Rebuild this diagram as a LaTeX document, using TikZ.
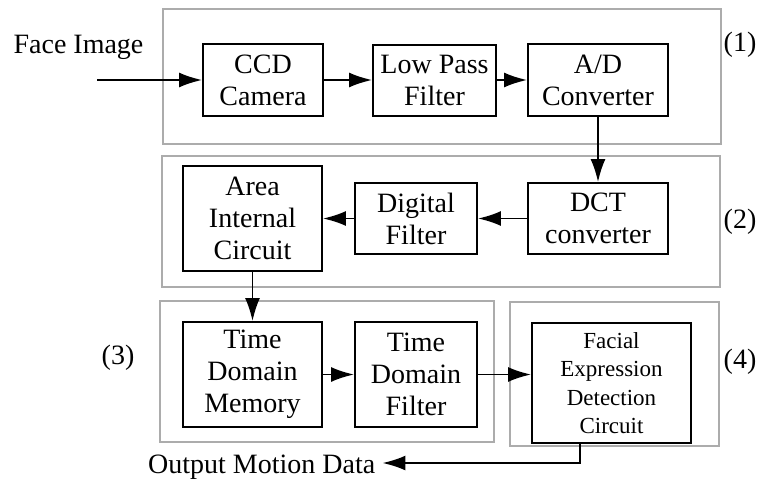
\documentclass[tikz,border=0pt]{standalone}
\usepackage{fontspec}
\newfontfamily\tms{Liberation Serif}
\usetikzlibrary{arrows.meta}
\begin{document}
\begin{tikzpicture}[x=1pt,y=-1pt,
  group/.style={draw=gray!65,line width=1.1pt},
  blk/.style={draw=black,line width=1.9pt,inner sep=0pt,align=center,
     font=\tms\fontsize{28}{32}\selectfont},
  lbl/.style={inner sep=0pt,font=\tms\fontsize{28}{32}\selectfont},
  num/.style={inner sep=0pt,font=\tms\fontsize{28}{30}\selectfont},
  tip/.style={-{Latex[length=23pt,width=15pt]}},
  arr/.style={line width=1.9pt,tip}]
\useasboundingbox (0,0) rectangle (759,481);
% group frames
\draw[group] (163,9) rectangle (721,144);
\draw[group] (162,156) rectangle (720,287);
\draw[group] (160,301) rectangle (494,442);
\draw[group] (510,302) rectangle (719,446);
% blocks
\node[blk,minimum width=120pt,minimum height=72pt] (ccd) at (263,80) {CCD\\Camera};
\node[blk,minimum width=123pt,minimum height=71pt] (lpf) at (434.5,80.5) {Low Pass\\Filter};
\node[blk,minimum width=140pt,minimum height=72pt] (ad) at (598,80) {A/D\\Converter};
\node[blk,minimum width=139pt,minimum height=105pt] (area) at (252.5,218.5) {Area\\Internal\\Circuit};
\node[blk,minimum width=122pt,minimum height=71pt] (df) at (416,218.5) {Digital\\Filter};
\node[blk,minimum width=140pt,minimum height=71pt] (dct) at (598,218.5) {DCT\\converter};
\node[blk,minimum width=139pt,minimum height=105pt] (tdm) at (252.5,374.5) {Time\\Domain\\Memory};
\node[blk,minimum width=122pt,minimum height=105pt] (tdf) at (416,374.5) {Time\\Domain\\Filter};
\node[blk,minimum width=159pt,minimum height=120pt,font=\tms\fontsize{23}{28.5}\selectfont] (fac) at (611.5,383) {Facial\\Expression\\Detection\\Circuit};
% labels
\node[lbl] (face) at (78.5,47) {Face Image};
\node[lbl,anchor=west] (out) at (148,467) {Output Motion Data};
\node[num] (n1) at (740,45) {(1)};
\node[num] (n2) at (740,222) {(2)};
\node[num] (n3) at (118,358) {(3)};
\node[num] (n4) at (740,362) {(4)};
% connectors
\coordinate (in) at (97,80);
\draw[arr] (in) -- (ccd.west);
\draw[arr] (ccd.east) -- (lpf.west |- ccd.east);
\draw[arr] (lpf.east |- ad.west) -- (ad.west);
\draw[arr] (ad.south) -- (dct.north);
\draw[arr] (dct.west) -- (df.east);
\draw[arr] (df.west) -- (area.east |- df.west);
\draw[arr] (area.south) -- (tdm.north);
\draw[arr] (tdm.east) -- (tdf.west);
\draw[arr] (tdf.east) -- (fac.west |- tdf.east);
\coordinate (fo) at (580,443);
\coordinate (corner) at (580,463);
\draw[arr] (fo) -- (corner) -- ([xshift=7pt]out.east |- corner);
\end{tikzpicture}
\end{document}
